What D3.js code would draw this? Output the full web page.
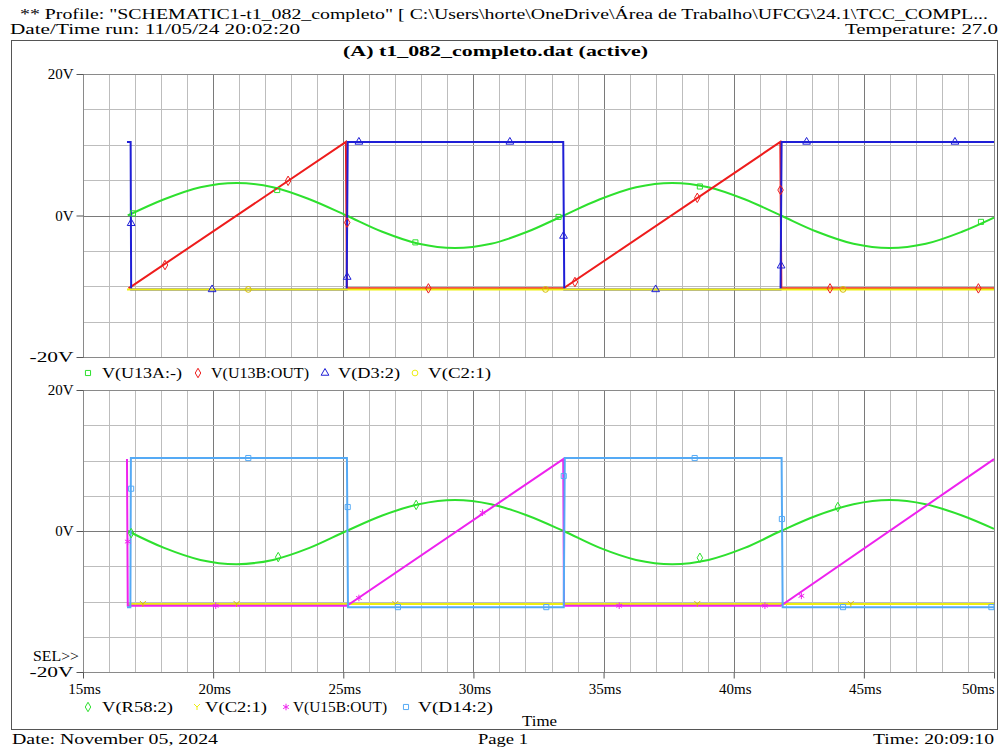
<!DOCTYPE html>
<html>
<head>
<meta charset="utf-8">
<script src="https://cdn.jsdelivr.net/npm/d3@7"></script>
<style>
  body { margin: 0; background: #fff; }
  text { font-family: "Liberation Serif", "DejaVu Serif", serif; fill: #000; }
</style>
</head>
<body>
<div id="chart"></div>
<script>
// probe plot values, time in ms / volts
const xTicks = [15, 20, 25, 30, 35, 40, 45, 50];
const yTicks = [20, 0, -20];

const tSine = [16.72, 18.12, 19.51, 20.90, 22.30, 23.70, 25.12, 26.50, 27.90, 29.29, 30.68, 32.07, 33.46,
               34.86, 36.25, 37.64, 39.03, 40.42, 41.81, 43.20, 44.60, 45.99, 47.38, 48.77, 50.0];
const vU13aMinus = [0.0, 2.3, 4.0, 4.6, 4.0, 2.3, 0.0, -2.3, -4.0, -4.6, -4.0, -2.3, 0.0,
                    2.3, 4.0, 4.6, 4.0, 2.3, 0.0, -2.3, -4.0, -4.6, -4.0, -2.3, -0.3];
const vR58 = [0.0, -2.4, -4.1, -4.7, -4.1, -2.4, 0.0, 2.2, 3.8, 4.4, 3.8, 2.2, 0.0,
              -2.4, -4.1, -4.7, -4.1, -2.4, 0.0, 2.2, 3.8, 4.4, 3.8, 2.2, 0.3];

const tU13b = [16.75, 25.10, 25.14, 33.46, 41.79, 41.83, 50.0];
const vU13b = [-10.3, 10.4, -10.3, -10.3, 10.4, -10.3, -10.3];

const tD3 = [16.69, 16.83, 16.85, 25.13, 25.17, 33.45, 33.49, 41.80, 41.84, 50.0];
const vD3 = [10.4, 10.4, -10.45, -10.45, 10.4, 10.4, -10.45, -10.45, 10.4, 10.4];

const tC2 = [16.69, 50.0];
const vC2top = [-10.45, -10.45];
const vC2bot = [-10.35, -10.35];

const tU15b = [16.69, 16.72, 25.14, 33.45, 33.48, 41.81, 50.0];
const vU15b = [10.2, -10.6, -10.6, 10.2, -10.6, -10.6, 10.2];

const tD14 = [16.69, 16.82, 16.84, 25.14, 25.18, 33.47, 33.51, 41.84, 41.88, 50.0];
const vD14 = [-10.8, -10.8, 10.35, 10.35, -10.8, -10.8, 10.35, 10.35, -10.8, -10.8];

// trace markers [ms, V]
const mkU13aMinus = [[16.92, 0.3], [22.46, 3.6], [27.77, -3.8], [33.27, -0.2], [38.7, 4.1], [49.5, -0.9]];
const mkU13b = [[18.15, -7.0], [22.88, 4.9], [25.15, -1.0], [28.27, -10.3], [33.9, -9.4], [38.6, 2.5],
                [41.8, 3.6], [43.7, -10.3], [49.4, -10.3]];
const mkD3 = [[16.85, -1.1], [19.96, -10.45], [25.15, -8.7], [25.6, 10.4], [31.4, 10.4], [33.46, -2.9],
              [37.0, -10.45], [41.82, -7.1], [42.8, 10.4], [48.5, 10.4]];
const mkC2top = [[21.35, -10.45], [32.77, -10.45], [44.2, -10.45]];
const mkR58 = [[16.85, -0.3], [22.5, -3.7], [27.8, 3.7], [38.7, -3.8], [44.0, 3.4]];
const mkC2bot = [[17.3, -10.35], [20.9, -10.35], [27.0, -10.35], [38.6, -10.35], [44.5, -10.35]];
const mkU15b = [[16.72, -1.5], [20.1, -10.6], [25.6, -9.5], [30.35, 2.6], [35.6, -10.6], [41.2, -10.6], [42.6, -9.2]];
const mkD14 = [[16.85, 6.0], [21.35, 10.35], [25.17, 3.4], [27.1, -10.8], [32.8, -10.8], [33.47, 7.8],
               [38.5, 10.35], [41.85, 1.7], [44.2, -10.8], [49.9, -10.8]];

const topNames = ["V(U13A:-)", "V(U13B:OUT)", "V(D3:2)", "V(C2:1)"];
const botNames = ["V(R58:2)", "V(C2:1)", "V(U15B:OUT)", "V(D14:2)"];

const width = 1003, height = 749;
const colors = {green: "#2ee02e", red: "#ee1c1c", blue: "#1f1fd6", yellow: "#eeee10",
                magenta: "#ee22ee", lblue: "#55aaf5"};

const svg = d3.select("#chart").append("svg")
    .attr("width", width)
    .attr("height", height);

svg.append("rect").attr("width", width).attr("height", height).attr("fill", "#fff");

const xRange = d3.scaleLinear().domain([15, 50]).range([83, 994]);
const yTop = d3.scaleLinear().domain([-20, 20]).range([357, 74]);
const yBot = d3.scaleLinear().domain([-20, 20]).range([672, 390]);

function label(str, x, y, len, anchor, weight) {
  const t = svg.append("text")
      .attr("x", x)
      .attr("y", y)
      .attr("font-size", 15)
      .attr("text-anchor", anchor || "start")
      .attr("font-weight", weight || "normal")
      .text(str);
  if (len) t.attr("textLength", len).attr("lengthAdjust", "spacingAndGlyphs");
  return t;
}

// header / footer
label("** Profile: \"SCHEMATIC1-t1_082_completo\"  [ C:\\Users\\horte\\OneDrive\\Área de Trabalho\\UFCG\\24.1\\TCC_COMPL...",
      20, 19, 968);
label("Date/Time run: 11/05/24 20:02:20", 10, 34, 290);
label("Temperature: 27.0", 845, 34, 153);
svg.append("rect")
    .attr("x", 11.5).attr("y", 40.5)
    .attr("width", 986).attr("height", 689)
    .attr("fill", "none").attr("stroke", "#555").attr("stroke-width", 1);
label("(A) t1_082_completo.dat (active)", 343, 56, 305, "start", "bold");
label("Date: November 05, 2024", 12, 744, 206);
label("Page 1", 478, 744, 50);
label("Time: 20:09:10", 873, 744, 121);
label("Time", 522, 726, 35);
label("SEL>>", 33, 661, 46);

function drawPanel(y) {
  const g = svg.append("g");
  // grid, 1 ms / 5 V
  g.selectAll(".vmin")
    .data(d3.range(16, 50))
    .enter().append("line")
      .attr("x1", function(d) { return Math.round(xRange(d)) + 0.5; })
      .attr("x2", function(d) { return Math.round(xRange(d)) + 0.5; })
      .attr("y1", y(20)).attr("y2", y(-20))
      .attr("stroke", function(d) { return d % 5 === 0 ? "#7a7a7a" : "#bdbdbd"; });
  g.selectAll(".hmin")
    .data([15, 10, 5, 0, -5, -10, -15])
    .enter().append("line")
      .attr("x1", xRange(15)).attr("x2", xRange(50))
      .attr("y1", function(d) { return Math.round(y(d)) + 0.5; })
      .attr("y2", function(d) { return Math.round(y(d)) + 0.5; })
      .attr("stroke", function(d) { return d === 0 ? "#7a7a7a" : "#bdbdbd"; });
  // frame
  g.append("rect")
    .attr("x", Math.round(xRange(15)) + 0.5).attr("y", Math.round(y(20)) + 0.5)
    .attr("width", Math.round(xRange(50)) - Math.round(xRange(15)))
    .attr("height", Math.round(y(-20)) - Math.round(y(20)))
    .attr("fill", "none").attr("stroke", "#8a8a8a");
  // y axis
  const ax = g.append("g")
    .attr("transform", "translate(" + (Math.round(xRange(15)) + 0.5) + ",0)")
    .call(d3.axisLeft(y).tickValues(yTicks).tickSize(7).tickPadding(3)
      .tickFormat(function(d) { return d + "V"; }));
  ax.select(".domain").remove();
  ax.selectAll("line").attr("stroke", "#555");
  ax.selectAll("text")
    .attr("font-size", 15)
    .attr("font-family", "Liberation Serif")
    .attr("fill", "#000")
    .attr("dy", "0.32em");
  ax.selectAll("text").filter(function(d) { return d < 0; })
    .attr("textLength", 44)
    .attr("lengthAdjust", "spacingAndGlyphs");
  return g;
}

function trace(g, y, ts, vs, color) {
  const line = d3.line()
    .x(function(d) { return xRange(d[0]); })
    .y(function(d) { return y(d[1]); });
  g.append("path")
    .datum(d3.zip(ts, vs))
    .attr("fill", "none")
    .attr("stroke", color)
    .attr("stroke-width", 2)
    .attr("d", line);
}

function smoothTrace(g, y, ts, vs, color) {
  const line = d3.line()
    .curve(d3.curveCatmullRom)
    .x(function(d) { return xRange(d[0]); })
    .y(function(d) { return y(d[1]); });
  g.append("path")
    .datum(d3.zip(ts, vs))
    .attr("fill", "none")
    .attr("stroke", color)
    .attr("stroke-width", 2)
    .attr("d", line);
}

const yShape = "M-3,-3L0,0L3,-3M0,0L0,3";
function symbolPath(kind) {
  if (kind === "Y") return yShape;
  const types = {square: d3.symbolSquare, diamond: d3.symbolDiamond, triangle: d3.symbolTriangle,
                 circle: d3.symbolCircle, star: d3.symbolAsterisk || d3.symbolTimes};
  return d3.symbol().type(types[kind]).size(kind === "star" ? 30 : 26)();
}

function markers(g, y, pts, kind, color) {
  g.selectAll(null)
    .data(pts)
    .enter().append("path")
      .attr("transform", function(d) { return "translate(" + xRange(d[0]) + "," + y(d[1]) + ")"; })
      .attr("d", symbolPath(kind))
      .attr("fill", "none")
      .attr("stroke", color)
      .attr("stroke-width", 1);
}

function legend(names, kinds, cols, mx, tx, lens, yPos) {
  names.forEach(function(n, i) {
    svg.append("path")
      .attr("transform", "translate(" + mx[i] + "," + (yPos - 5) + ")")
      .attr("d", symbolPath(kinds[i]))
      .attr("fill", "none")
      .attr("stroke", cols[i]);
    label(n, tx[i], yPos, lens[i]);
  });
}

// top panel
const gTop = drawPanel(yTop);
smoothTrace(gTop, yTop, tSine, vU13aMinus, colors.green);
trace(gTop, yTop, tU13b, vU13b, colors.red);
trace(gTop, yTop, tD3, vD3, colors.blue);
trace(gTop, yTop, tC2, vC2top, colors.yellow);
markers(gTop, yTop, mkU13aMinus, "square", colors.green);
markers(gTop, yTop, mkU13b, "diamond", colors.red);
markers(gTop, yTop, mkD3, "triangle", colors.blue);
markers(gTop, yTop, mkC2top, "circle", "#d8c000");

legend(topNames, ["square", "diamond", "triangle", "circle"],
       [colors.green, colors.red, colors.blue, colors.yellow],
       [88, 198, 325, 415], [102, 211, 338, 428], [80, 98, 62, 63], 378);

// bottom panel
const gBot = drawPanel(yBot);
smoothTrace(gBot, yBot, tSine, vR58, colors.green);
trace(gBot, yBot, tC2, vC2bot, colors.yellow);
trace(gBot, yBot, tU15b, vU15b, colors.magenta);
trace(gBot, yBot, tD14, vD14, colors.lblue);
markers(gBot, yBot, mkR58, "diamond", colors.green);
markers(gBot, yBot, mkC2bot, "Y", "#d8c000");
markers(gBot, yBot, mkU15b, "star", colors.magenta);
markers(gBot, yBot, mkD14, "square", colors.lblue);

legend(botNames, ["diamond", "Y", "star", "square"],
       [colors.green, colors.yellow, colors.magenta, colors.lblue],
       [88, 197, 286, 406], [102, 205, 293, 418], [71, 62, 94, 75], 712);

// x axis
const xa = svg.append("g")
  .attr("transform", "translate(0," + (Math.round(yBot(-20)) + 0.5) + ")")
  .call(d3.axisBottom(xRange).tickValues(xTicks).tickSize(6).tickPadding(5)
    .tickFormat(function(d) { return d + "ms"; }));
xa.select(".domain").remove();
xa.selectAll("line").attr("stroke", "#555");
xa.selectAll("text")
  .attr("font-size", 15)
  .attr("font-family", "Liberation Serif")
  .attr("fill", "#000")
  .attr("text-anchor", function(d) { return d === 50 ? "end" : "middle"; })
  .attr("dx", function(d) { return d === 50 ? 0 : 1; });
</script>
</body>
</html>
